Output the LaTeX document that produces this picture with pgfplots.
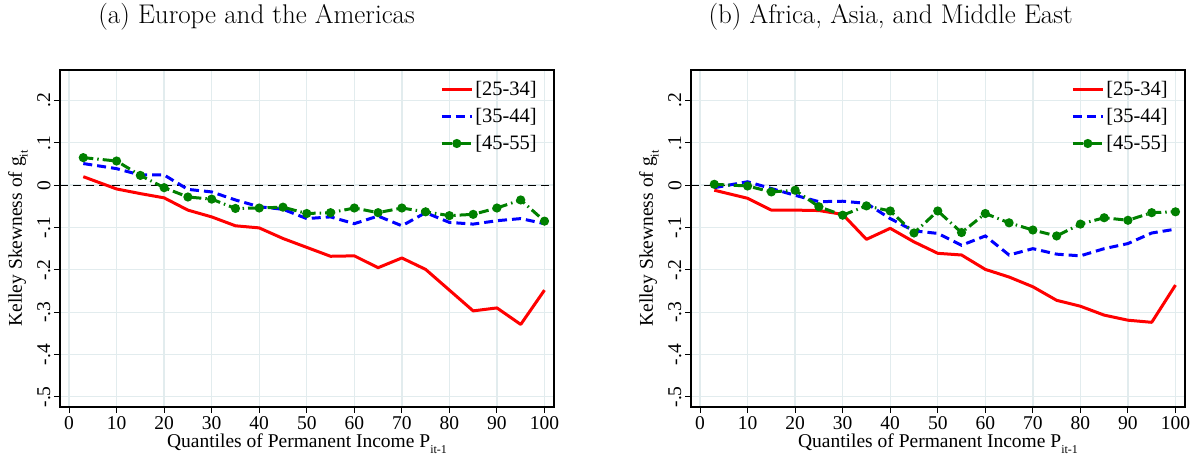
\documentclass[border=0pt]{standalone}
\usepackage{fontspec}
\usepackage{pgfplots}
\usepackage{pgfplotstable}
\pgfplotsset{compat=1.18}
\newfontfamily\tfont{Liberation Serif}
\definecolor{gridc}{RGB}{226,236,238}
\definecolor{sred}{RGB}{255,0,0}
\definecolor{sblue}{RGB}{0,0,255}
\definecolor{sgreen}{RGB}{0,128,0}
\newcommand{\sub}[1]{\raisebox{-0.3em}{\fontsize{12}{12}\selectfont #1}}

\pgfplotstableread{
x red blue green
3 0.020 0.051 0.065
10 -0.009 0.039 0.057
15 -0.020 0.024 0.023
20 -0.030 0.024 -0.006
25 -0.059 -0.010 -0.028
30 -0.075 -0.016 -0.033
35 -0.096 -0.035 -0.055
40 -0.101 -0.051 -0.054
45 -0.126 -0.057 -0.052
50 -0.147 -0.079 -0.067
55 -0.168 -0.075 -0.065
60 -0.167 -0.091 -0.054
65 -0.195 -0.073 -0.065
70 -0.172 -0.096 -0.054
75 -0.199 -0.065 -0.063
80 -0.248 -0.088 -0.072
85 -0.297 -0.092 -0.069
90 -0.290 -0.084 -0.054
95 -0.329 -0.079 -0.035
100 -0.248 -0.091 -0.085
}\tabA

\pgfplotstableread{
x red blue green
3 -0.012 -0.006 0.002
10 -0.031 0.008 -0.002
15 -0.059 -0.008 -0.016
20 -0.059 -0.024 -0.012
25 -0.060 -0.039 -0.051
30 -0.069 -0.038 -0.071
35 -0.128 -0.043 -0.049
40 -0.102 -0.079 -0.061
45 -0.134 -0.108 -0.113
50 -0.161 -0.114 -0.061
55 -0.165 -0.142 -0.112
60 -0.199 -0.120 -0.067
65 -0.217 -0.165 -0.089
70 -0.240 -0.150 -0.106
75 -0.272 -0.163 -0.120
80 -0.286 -0.167 -0.092
85 -0.307 -0.150 -0.077
90 -0.319 -0.138 -0.083
95 -0.324 -0.113 -0.065
100 -0.236 -0.104 -0.063
}\tabB

\pgfplotsset{
 kelley/.style={
  scale only axis, width=494pt, height=337pt,
  xmin=-1.9, xmax=102, ymin=-0.524, ymax=0.272,
  xtick={0,10,...,100},
  ytick={-0.5,-0.4,-0.3,-0.2,-0.1,0,0.1,0.2},
  yticklabels={-.5,-.4,-.3,-.2,-.1,0,.1,.2},
  grid=major, major grid style={gridc, line width=1.3pt},
  axis line style={black, line width=1.2pt},
  tick style={black, line width=1pt}, tick align=outside, major tick length=6pt,
  xtick pos=bottom, ytick pos=left,
  /pgf/number format/assume math mode=true,
  tick label style={font=\tfont\fontsize{19.5}{22}\selectfont},
  yticklabel style={rotate=90, anchor=south},
  label style={font=\tfont\fontsize{19.5}{22}\selectfont},
  xlabel={Quantiles of Permanent Income P\sub{it-1}},
  ylabel={Kelley Skewness of g\sub{it}},
  xlabel style={at={(axis description cs:0.5,0)}, anchor=base, yshift=-41pt},
  ylabel style={at={(axis description cs:-0.085,0.5)}, anchor=center},
  title style={anchor=base, yshift=40pt, font=\fontsize{27}{32}\selectfont},
  legend style={at={(rel axis cs:1,1)}, anchor=north east, xshift=-12pt, yshift=-7pt,
    draw=none, fill=none, font=\tfont\fontsize{20.5}{23}\selectfont,
    row sep=7.5pt, nodes={inner sep=2pt}, cells={anchor=west}},
  legend image code/.code={\draw[mark repeat=2,mark phase=2,#1] plot coordinates {(0pt,0pt) (15pt,0pt) (30pt,0pt)};},
 },
 redl/.style={sred, line width=3pt, line join=round},
 bluel/.style={sblue, line width=3pt, dash pattern=on 9pt off 5pt},
 greenl/.style={sgreen, line width=3pt, dash pattern=on 10pt off 4pt on 1.5pt off 4pt, mark=*, mark size=3pt, mark options={solid}},
 zerol/.style={black, line width=1.1pt, dash pattern=on 8pt off 5pt, forget plot},
}

\begin{document}
\begin{tikzpicture}
\useasboundingbox (0,0) rectangle (1195pt,462pt);
\begin{axis}[kelley, at={(60pt,55pt)}, anchor=south west,
  title={(a) Europe and the Americas}, title style={at={(axis description cs:0.398,1)}}]
\addplot[zerol] coordinates {(-10,0) (110,0)};
\addplot[redl] table[x=x, y=red] {\tabA};
\addplot[bluel] table[x=x, y=blue] {\tabA};
\addplot[greenl] table[x=x, y=green] {\tabA};
\legend{\relax[25-34],\relax[35-44],\relax[45-55]}
\end{axis}
\begin{axis}[kelley, at={(691pt,55pt)}, anchor=south west,
  title={(b) Africa, Asia, and Middle East}, title style={at={(axis description cs:0.404,1)}}]
\addplot[zerol] coordinates {(-10,0) (110,0)};
\addplot[redl] table[x=x, y=red] {\tabB};
\addplot[bluel] table[x=x, y=blue] {\tabB};
\addplot[greenl] table[x=x, y=green] {\tabB};
\legend{\relax[25-34],\relax[35-44],\relax[45-55]}
\end{axis}
\end{tikzpicture}
\end{document}
